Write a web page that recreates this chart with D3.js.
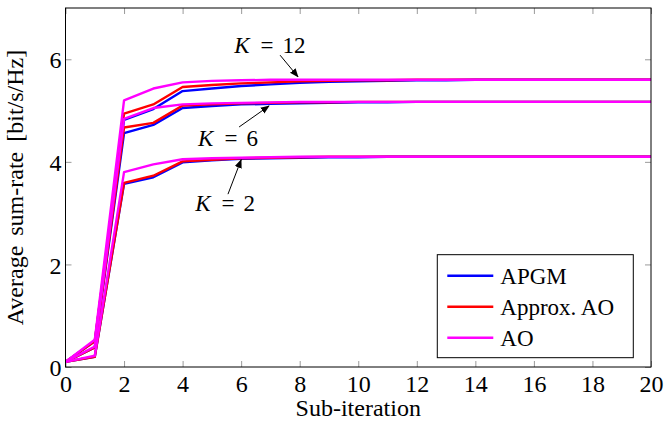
<!DOCTYPE html>
<html>
<head>
<meta charset="utf-8">
<script src="https://cdn.jsdelivr.net/npm/d3@7"></script>
<style>
  body { margin: 0; background: #fff; }
</style>
</head>
<body>
<div id="chart"></div>
<script>
const width = 665;
const height = 424;
const margin = { top: 8, right: 14, bottom: 57, left: 65.5 };
const innerWidth = width - margin.left - margin.right;
const innerHeight = height - margin.top - margin.bottom;
const serif = "'Liberation Serif', 'Times New Roman', Times, serif";

const iterations = d3.range(0, 21);
const xTicks = [0, 2, 4, 6, 8, 10, 12, 14, 16, 18, 20];
const yTicks = [0, 2, 4, 6];

// sum-rate per sub-iteration
const apgmK12 = [0.1, 0.5, 4.82, 5.03, 5.38, 5.43, 5.48, 5.51, 5.54, 5.56, 5.57, 5.58, 5.59, 5.59, 5.6, 5.6, 5.6, 5.6, 5.6, 5.6, 5.6];
const approxK12 = [0.1, 0.5, 4.94, 5.12, 5.46, 5.5, 5.53, 5.55, 5.57, 5.58, 5.59, 5.59, 5.6, 5.6, 5.6, 5.6, 5.6, 5.6, 5.6, 5.6, 5.6];
const aoK12 = [0.1, 0.53, 5.2, 5.43, 5.55, 5.58, 5.59, 5.6, 5.6, 5.6, 5.6, 5.6, 5.6, 5.6, 5.6, 5.6, 5.6, 5.6, 5.6, 5.6, 5.6];

const apgmK6 = [0.1, 0.38, 4.56, 4.72, 5.05, 5.09, 5.12, 5.13, 5.14, 5.15, 5.16, 5.16, 5.17, 5.17, 5.17, 5.17, 5.17, 5.17, 5.17, 5.17, 5.17];
const approxK6 = [0.1, 0.38, 4.67, 4.76, 5.1, 5.12, 5.14, 5.15, 5.16, 5.16, 5.17, 5.17, 5.17, 5.17, 5.17, 5.17, 5.17, 5.17, 5.17, 5.17, 5.17];
const aoK6 = [0.1, 0.4, 4.84, 5.05, 5.12, 5.14, 5.15, 5.16, 5.17, 5.17, 5.17, 5.17, 5.17, 5.17, 5.17, 5.17, 5.17, 5.17, 5.17, 5.17, 5.17];

const apgmK2 = [0.1, 0.2, 3.57, 3.7, 3.99, 4.03, 4.06, 4.07, 4.08, 4.09, 4.09, 4.1, 4.1, 4.1, 4.1, 4.1, 4.1, 4.1, 4.1, 4.1, 4.1];
const approxK2 = [0.1, 0.2, 3.59, 3.73, 4.01, 4.04, 4.07, 4.08, 4.09, 4.1, 4.1, 4.1, 4.1, 4.1, 4.1, 4.1, 4.1, 4.1, 4.1, 4.1, 4.1];
const aoK2 = [0.1, 0.22, 3.8, 3.95, 4.05, 4.07, 4.08, 4.09, 4.1, 4.1, 4.1, 4.1, 4.1, 4.1, 4.1, 4.1, 4.1, 4.1, 4.1, 4.1, 4.1];

const methods = ["APGM", "Approx. AO", "AO"];
const methodColors = ["#0000ff", "#ff0000", "#ff00ff"];
const series = [
    { method: "APGM", values: [apgmK12, apgmK6, apgmK2] },
    { method: "Approx. AO", values: [approxK12, approxK6, approxK2] },
    { method: "AO", values: [aoK12, aoK6, aoK2] }
];

// K labels: text centre and arrow (from, to) in data units
const annotations = [
    { k: "12", tx: 6.98, ty: 6.27, x1: 7.33, y1: 6.08, x2: 7.94, y2: 5.66 },
    { k: "6", tx: 5.55, ty: 4.46, x1: 5.93, y1: 4.68, x2: 6.95, y2: 5.09 },
    { k: "2", tx: 5.45, ty: 3.19, x1: 5.55, y1: 3.37, x2: 6.0, y2: 4.04 }
];

const svg = d3.select("#chart")
    .append("svg")
    .attr("width", width)
    .attr("height", height)
    .attr("font-family", serif);

const defs = svg.append("defs");
defs.append("marker")
    .attr("id", "arrow")
    .attr("viewBox", "0 0 10 10")
    .attr("refX", 9)
    .attr("refY", 5)
    .attr("markerWidth", 9)
    .attr("markerHeight", 9)
    .attr("markerUnits", "userSpaceOnUse")
    .attr("orient", "auto")
    .append("path")
    .attr("d", "M0,1 L10,5 L0,9 Z")
    .attr("fill", "#000");
defs.append("clipPath").attr("id", "clip")
    .append("rect")
    .attr("width", innerWidth)
    .attr("height", innerHeight);

const chart = svg.append("g")
    .attr("transform", `translate(${margin.left}, ${margin.top})`);

const xScale = d3.scaleLinear().domain([0, 20]).range([0, innerWidth]);
const yScale = d3.scaleLinear().domain([0, 7]).range([innerHeight, 0]);

const colorScale = d3.scaleOrdinal().domain(methods).range(methodColors);

// ticks, inside the frame on all four sides
const tickLen = 6;
const tickColor = "#9a9a9a";
const bottomAxis = chart.append("g")
    .attr("transform", `translate(0, ${innerHeight})`)
    .call(d3.axisBottom(xScale).tickValues(xTicks).tickSizeInner(-tickLen).tickSizeOuter(0)
        .tickPadding(8).tickFormat(d3.format("d")));
const topAxis = chart.append("g")
    .call(d3.axisTop(xScale).tickValues(xTicks).tickSizeInner(-tickLen).tickSizeOuter(0));
const leftAxis = chart.append("g")
    .call(d3.axisLeft(yScale).tickValues(yTicks).tickSizeInner(-tickLen).tickSizeOuter(0)
        .tickPadding(4).tickFormat(d3.format("d")));
const rightAxis = chart.append("g")
    .attr("transform", `translate(${innerWidth}, 0)`)
    .call(d3.axisRight(yScale).tickValues(yTicks).tickSizeInner(-tickLen).tickSizeOuter(0));

topAxis.selectAll(".tick text").remove();
rightAxis.selectAll(".tick text").remove();

[bottomAxis, topAxis, leftAxis, rightAxis].forEach(a => {
    a.attr("font-family", serif).attr("font-size", 24);
    a.select(".domain").remove();
    a.selectAll(".tick line").attr("stroke", tickColor).attr("stroke-width", 1);
    a.selectAll(".tick text").attr("fill", "#000");
});
leftAxis.selectAll(".tick text").attr("dy", "0.36em");

// curves
const line = d3.line()
    .x((d, i) => xScale(iterations[i]))
    .y(d => yScale(d));

const curves = chart.append("g").attr("clip-path", "url(#clip)");
series.forEach(s => {
    s.values.forEach(v => {
        curves.append("path")
            .datum(v)
            .attr("fill", "none")
            .attr("stroke", colorScale(s.method))
            .attr("stroke-width", 2.4)
            .attr("stroke-linejoin", "round")
            .attr("d", line);
    });
});

// frame
chart.append("rect")
    .attr("width", innerWidth)
    .attr("height", innerHeight)
    .attr("fill", "none")
    .attr("stroke", "#000")
    .attr("stroke-width", 1);

// K annotations
annotations.forEach(a => {
    chart.append("line")
        .attr("x1", xScale(a.x1)).attr("y1", yScale(a.y1))
        .attr("x2", xScale(a.x2)).attr("y2", yScale(a.y2))
        .attr("stroke", "#000")
        .attr("stroke-width", 1)
        .attr("marker-end", "url(#arrow)");
    const t = chart.append("text")
        .attr("x", xScale(a.tx))
        .attr("y", yScale(a.ty))
        .attr("dy", "0.35em")
        .attr("text-anchor", "middle")
        .attr("font-size", 23);
    t.append("tspan").attr("font-style", "italic").text("K");
    t.append("tspan").attr("dx", 11).text("=");
    t.append("tspan").attr("dx", 9).text(a.k);
});

// legend
const legend = chart.append("g")
    .attr("transform", `translate(${xScale(12.7)}, ${yScale(2.19)})`);
legend.append("rect")
    .attr("width", 196)
    .attr("height", 103)
    .attr("fill", "#fff")
    .attr("stroke", "#000")
    .attr("stroke-width", 1);
const items = legend.selectAll(".legend")
    .data(methods)
    .enter()
    .append("g")
    .attr("class", "legend")
    .attr("transform", (d, i) => `translate(0, ${21 + i * 31})`);
items.append("line")
    .attr("x1", 10).attr("x2", 56)
    .attr("stroke", d => colorScale(d))
    .attr("stroke-width", 2.4);
items.append("text")
    .attr("x", 63)
    .attr("dy", "0.35em")
    .attr("font-size", 23)
    .text(d => d);

// axis labels
chart.append("text")
    .attr("x", innerWidth / 2)
    .attr("y", innerHeight + 49)
    .attr("text-anchor", "middle")
    .attr("font-size", 24)
    .text("Sub-iteration");

chart.append("text")
    .attr("transform", `translate(${-43}, ${innerHeight / 2}) rotate(-90)`)
    .attr("text-anchor", "middle")
    .attr("font-size", 24)
    .attr("word-spacing", 4)
    .text("Average sum-rate [bit/s/Hz]");

svg.selectAll("text").style("font-family", serif).attr("fill", "#000");
</script>
</body>
</html>
